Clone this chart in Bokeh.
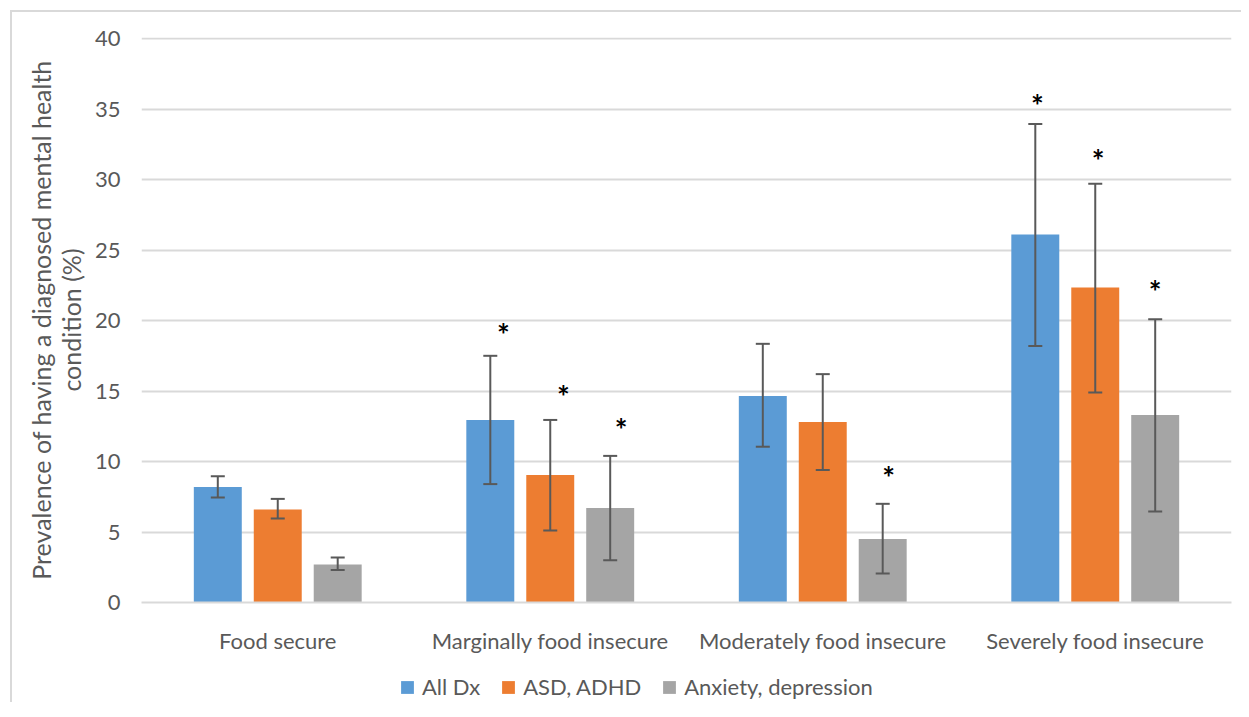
from bokeh.plotting import figure
from bokeh.layouts import column
from bokeh.models import (ColumnDataSource, FactorRange, Whisker, TeeHead, Legend,
                          LegendItem, Range1d, FixedTicker)
from bokeh.transform import dodge
from bokeh.core.properties import value
from bokeh.embed import file_html
from bokeh.resources import INLINE

# ---------------- data ----------------
categories = ["Food secure", "Marginally food insecure",
              "Moderately food insecure", "Severely food insecure"]
series_names = ["All Dx", "ASD, ADHD", "Anxiety, depression"]

all_dx = [8.2, 12.95, 14.65, 26.1]
all_dx_low = [7.45, 8.4, 11.05, 18.2]
all_dx_high = [8.95, 17.5, 18.35, 33.95]

asd_adhd = [6.6, 9.05, 12.8, 22.35]
asd_adhd_low = [5.95, 5.1, 9.4, 14.9]
asd_adhd_high = [7.35, 12.95, 16.2, 29.7]

anx_dep = [2.7, 6.7, 4.5, 13.3]
anx_dep_low = [2.3, 3.0, 2.05, 6.45]
anx_dep_high = [3.2, 10.4, 7.0, 20.1]

# significance markers (height of the asterisk, None = no marker)
star_all_dx = [None, 19.45, None, 35.75]
star_asd_adhd = [None, 15.05, None, 31.8]
star_anx_dep = [None, 12.75, 9.3, 22.5]

y_ticks = [0, 5, 10, 15, 20, 25, 30, 35, 40]

# ---------------- style ----------------
colors = ["#5b9bd5", "#ed7d31", "#a5a5a5"]
offsets = [-0.22, 0.0, 0.22]
bar_w = 0.176
text_color = "#595959"
grid_color = "#d9d9d9"
err_color = "#595959"
font = "Lato"

p = figure(x_range=FactorRange(*categories, range_padding=0),
           y_range=Range1d(0, 40.08),
           width=1229, height=648,
           output_backend="svg", toolbar_location=None,
           min_border_left=129, min_border_right=10,
           min_border_top=25, min_border_bottom=58)
p.outline_line_color = None
p.background_fill_color = "white"
p.border_fill_color = "white"

series = [
    (all_dx, all_dx_low, all_dx_high, star_all_dx),
    (asd_adhd, asd_adhd_low, asd_adhd_high, star_asd_adhd),
    (anx_dep, anx_dep_low, anx_dep_high, star_anx_dep),
]
star_shift = [[0, 0.048, 0, 0.008], [0, 0.048, 0, 0.011], [0, 0.04, 0.022, 0.0]]

for i, (vals, lo, hi, stars) in enumerate(series):
    src = ColumnDataSource(dict(cat=categories, val=vals, lo=lo, hi=hi))
    p.vbar(x=dodge("cat", offsets[i], range=p.x_range), top="val", width=bar_w,
           source=src, fill_color=colors[i], line_color=None)
    w = Whisker(base=dodge("cat", offsets[i], range=p.x_range), upper="hi", lower="lo",
                source=src, dimension="height", line_color=err_color, line_width=2,
                level="overlay",
                upper_head=TeeHead(size=14, line_color=err_color, line_width=2),
                lower_head=TeeHead(size=14, line_color=err_color, line_width=2))
    p.add_layout(w)
    for c, y, d in zip(categories, stars, star_shift[i]):
        if y is None:
            continue
        p.text(x=dodge("cat", offsets[i] + d, range=p.x_range), y="y", text=value("*"),
               source=ColumnDataSource(dict(cat=[c], y=[y])),
               text_font=value(font), text_font_size="30px", text_font_style="bold",
               text_color="black", text_align="center", text_baseline="middle",
               y_offset=6)

p.yaxis.ticker = FixedTicker(ticks=y_ticks)
p.yaxis.axis_line_color = None
p.yaxis.major_tick_line_color = None
p.yaxis.minor_tick_line_color = None
p.yaxis.major_label_text_font = font
p.yaxis.major_label_text_font_size = "22px"
p.yaxis.major_label_text_color = text_color
p.yaxis.major_label_standoff = 15
p.yaxis.axis_label = "Prevalence of having a diagnosed mental health\ncondition (%)"
p.yaxis.axis_label_text_font = font
p.yaxis.axis_label_text_font_size = "25px"
p.yaxis.axis_label_text_font_style = "normal"
p.yaxis.axis_label_text_color = text_color
p.yaxis.axis_label_text_line_height = 1.0
p.yaxis.axis_label_standoff = 6

p.xaxis.axis_line_color = grid_color
p.xaxis.axis_line_width = 2
p.xaxis.major_tick_line_color = None
p.xaxis.minor_tick_line_color = None
p.xaxis.major_label_text_font = font
p.xaxis.major_label_text_font_size = "22px"
p.xaxis.major_label_text_color = text_color
p.xaxis.major_label_standoff = 18

p.xgrid.grid_line_color = None
p.ygrid.grid_line_color = grid_color
p.ygrid.grid_line_width = 2

# legend strip below the chart, with the same side borders as the chart
lf = figure(width=1229, height=42, x_range=Range1d(0, 1), y_range=Range1d(0, 1),
            x_axis_type=None, y_axis_type=None, output_backend="svg",
            toolbar_location=None, min_border_left=129, min_border_right=10,
            min_border_top=0, min_border_bottom=0)
lf.outline_line_color = None
lf.grid.grid_line_color = None
lf.background_fill_color = "white"
lf.border_fill_color = "white"
items = []
for i, name in enumerate(series_names):
    # zero-height bar: only its legend swatch is visible
    r = lf.vbar(x=[0.5], top=[0], bottom=[0], width=0.1, fill_color=colors[i],
                line_color=None)
    items.append(LegendItem(label=name, renderers=[r]))
legend = Legend(items=items, orientation="horizontal", location=(258, 2),
                glyph_width=16, glyph_height=16, label_standoff=7, spacing=20,
                label_text_font=font, label_text_font_size="22px",
                label_text_color=text_color, border_line_color=None,
                background_fill_alpha=0, padding=0, margin=0)
lf.add_layout(legend, "center")

layout = column(p, lf, spacing=0)
layout.styles = {"margin-left": "10px", "margin-top": "10px",
                 "border-left": "2px solid #d9d9d9", "border-top": "2px solid #d9d9d9"}

open("out.html", "w").write(file_html(layout, INLINE))
